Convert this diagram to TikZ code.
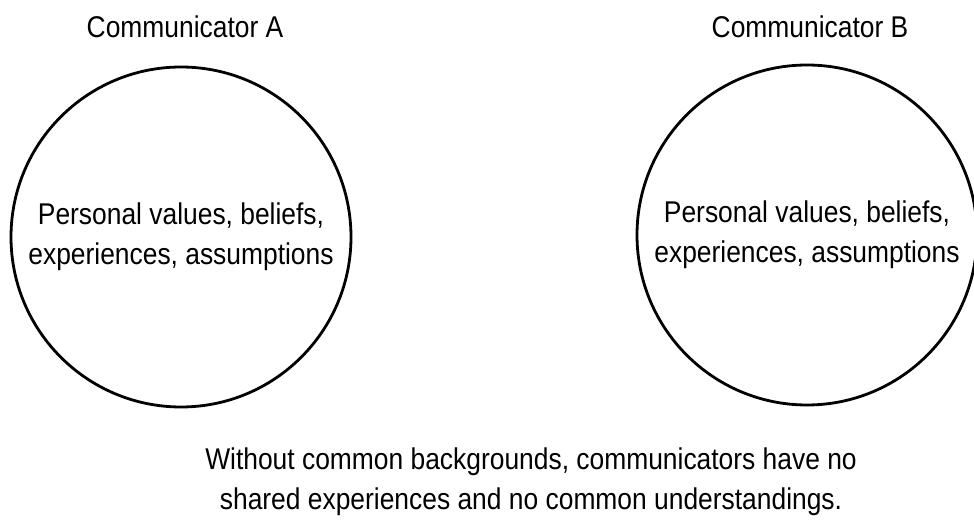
\documentclass[tikz,border=0pt]{standalone}
\usepackage{fontspec}
\setmainfont[FakeStretch=0.88]{Liberation Sans}

\begin{document}
\begin{tikzpicture}[x=1pt,y=1pt,
  person/.style={circle,draw,line width=2.8pt,minimum size=340pt,inner sep=0pt,
    align=center,font=\fontsize{30}{40}\selectfont},
  plain/.style={align=center,font=\fontsize{30}{40}\selectfont}]
\useasboundingbox (0,0) rectangle (974,527);
% the two communicators
\node[person] (commA) at (181,290) {Personal values, beliefs,\\experiences, assumptions};
\node[person] (commB) at (807,292) {Personal values, beliefs,\\experiences, assumptions};
\node[plain] (nameA) at (185,500) {Communicator A};
\node[plain] (nameB) at (810,500) {Communicator B};
% caption
\node[plain] (note) at (531,45) {Without common backgrounds, communicators have no\\shared experiences and no common understandings.};
\end{tikzpicture}
\end{document}
